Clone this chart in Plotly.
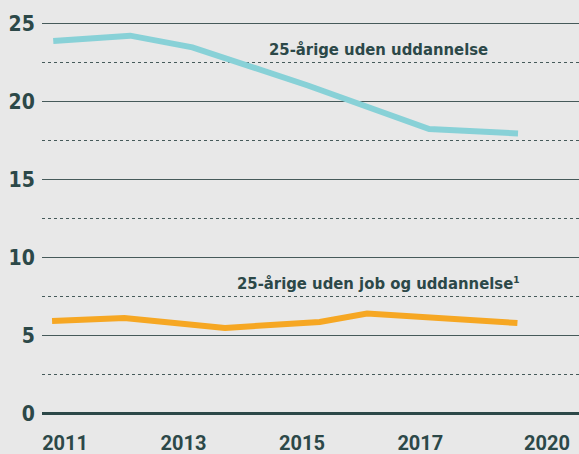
import plotly.graph_objects as go
import numpy as np

# Data
years_uden_udd = [2010.8, 2012.1, 2013.15, 2015.1, 2017.15, 2018.2, 2018.65]
uden_udd = [23.9, 24.25, 23.5, 21.05, 18.25, 18.0, 17.97]

years_uden_job = [2010.78, 2012.0, 2013.7, 2014.8, 2015.3, 2016.1, 2018.64]
uden_job = [5.93, 6.12, 5.48, 5.72, 5.87, 6.41, 5.80]

x_tick_pos = [2011, 2013, 2015, 2017, 2019.14]
x_tick_labels = ["2011", "2013", "2015", "2017", "2020"]
y_ticks = [0, 5, 10, 15, 20, 25]

label_udd = "25-årige uden uddannelse"
label_job = "25-årige uden job og uddannelse¹"

BG = "#e8e8e8"
DARK = "#2c4848"
GRID = "#465a5a"
COND = "DejaVu Sans Condensed, serif"

fig = go.Figure()
fig.add_trace(go.Scatter(x=years_uden_udd, y=uden_udd, mode="lines",
                         line=dict(color="#88d1d7", width=6), hoverinfo="skip"))
fig.add_trace(go.Scatter(x=years_uden_job, y=uden_job, mode="lines",
                         line=dict(color="#f6a723", width=6), hoverinfo="skip"))

fig.add_annotation(x=2016.30, y=23.36, text=label_udd, showarrow=False,
                   font=dict(family=COND, size=16.5, color=DARK, weight="bold"),
                   xanchor="center", yanchor="middle")
fig.add_annotation(x=2016.30, y=8.35, text=label_job, showarrow=False,
                   font=dict(family=COND, size=16.5, color=DARK, weight="bold"),
                   xanchor="center", yanchor="middle")

fig.update_layout(
    width=579, height=454,
    margin=dict(l=42, r=0, t=0, b=36, autoexpand=False),
    paper_bgcolor=BG, plot_bgcolor=BG,
    showlegend=False,
    xaxis=dict(range=[2010.61, 2019.68], showgrid=False, zeroline=False, automargin=False,
               tickvals=x_tick_pos, ticktext=x_tick_labels,
               ticks="outside", ticklen=7, tickcolor="rgba(0,0,0,0)",
               tickfont=dict(family="Roboto", size=20, color=DARK, weight="bold"),
               showline=False),
    yaxis=dict(range=[-0.3, 26.54], tickvals=y_ticks, automargin=False,
               showgrid=True, gridcolor=GRID, gridwidth=1.3,
               zeroline=True, zerolinecolor=DARK, zerolinewidth=2.5,
               ticks="outside", ticklen=2, tickcolor="rgba(0,0,0,0)",
               tickfont=dict(family=COND, size=21, color=DARK, weight="bold"),
               minor=dict(tickvals=list(np.arange(2.5, 25, 5)), showgrid=True,
                          gridcolor=GRID, gridwidth=1, griddash="3px,3px"),
               showline=False),
)

fig.write_html("out.html", config={"displayModeBar": False},
               post_script="document.body.style.margin='0';document.body.style.background='#e8e8e8';document.body.style.overflow='hidden';")
